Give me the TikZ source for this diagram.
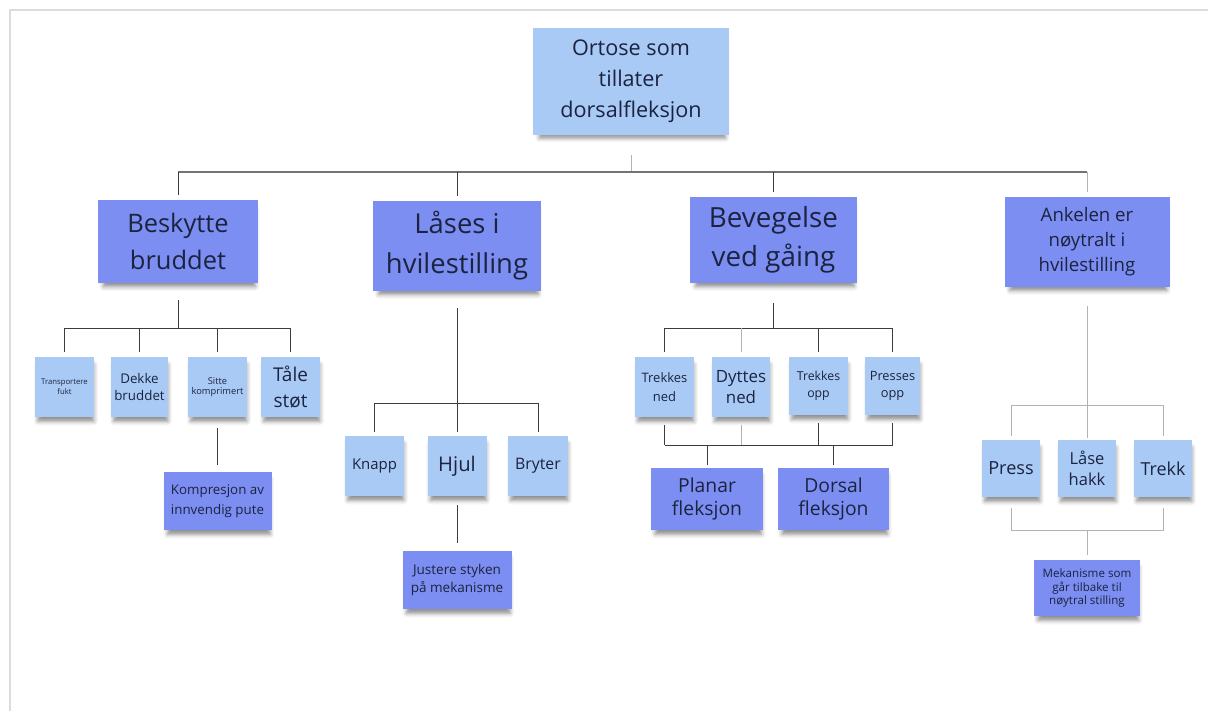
\documentclass[tikz,border=0pt]{standalone}
\usepackage{fontspec}
\setmainfont{Open Sans}
\usetikzlibrary{calc,shadows.blur}
\definecolor{lysblaa}{HTML}{A8CAF4}
\definecolor{lilla}{HTML}{7C8EF1}
\definecolor{tekst}{HTML}{1B2340}
\definecolor{strekfarge}{HTML}{3C3C3C}
\definecolor{rammefarge}{HTML}{DCDCDC}
\tikzset{
  lapp/.style={fill=lysblaa, text=tekst, align=center, inner sep=0pt,
    blur shadow={shadow xshift=0.8pt, shadow yshift=-3.5pt, shadow scale=0.95,
      shadow blur radius=2.5pt, shadow opacity=45}},
  lapp2/.style={lapp, fill=lilla},
  wh/.style 2 args={minimum width=#1*0.02cm, minimum height=#2*0.02cm},
  fs/.style 2 args={font=\fontsize{#1}{#2}\selectfont},
  strek/.style={draw=strekfarge, line width=0.55pt},
  lys/.style={draw=black!30, line width=0.55pt},
  hovedstrek/.style={draw=black!55, line width=1.3pt},
}
\begin{document}
\begin{tikzpicture}[x=0.02cm, y=-0.02cm]
    \useasboundingbox (0,0) rectangle (1208,711);
    \draw[rammefarge, line width=1.2pt] (10,711) -- (10,10) -- (1208,10);
    % rot
    \node[lapp, wh={196}{107}, fs={12.3}{17.6}] (rot) at (631,81.5) {Ortose som\\tillater\\dorsalfleksjon};
    % nivaa 1
    \node[lapp2, wh={160}{83}, fs={14.5}{21}] (beskytte) at (178,241.5) {Beskytte\\bruddet};
    \node[lapp2, wh={168}{90}, fs={15.6}{22.7}] (laases) at (457,246) {Låses i\\hvilestilling};
    \node[lapp2, wh={167}{86}, fs={15.8}{22}] (bevegelse) at (773.5,240) {Bevegelse\\ved gåing};
    \node[lapp2, wh={165}{90}, fs={10.6}{14.3}] (ankel) at (1087,242) {Ankelen er\\nøytralt i\\hvilestilling};
    % beskytte bruddet
    \node[lapp, wh={59}{60}, fs={4.4}{5.4}] (transport) at (64.5,387) {Transportere\\fukt};
    \node[lapp, wh={57}{60}, fs={7.6}{10}] (dekke) at (139.5,387) {Dekke\\bruddet};
    \node[lapp, wh={59}{60}, fs={5.3}{6}] (sitte) at (217.5,387) {Sitte\\komprimert};
    \node[lapp, wh={59}{60}, fs={10.8}{14.7}] (taale) at (290.5,387) {Tåle\\støt};
    \node[lapp2, wh={108}{58}, fs={7.6}{11.2}] (kompresjon) at (217.5,501) {Kompresjon av\\innvendig pute};
    % laases i hvilestilling
    \node[lapp, wh={59}{60}, fs={8.5}{11}] (knapp) at (374.5,466) {Knapp};
    \node[lapp, wh={59}{60}, fs={11.5}{14}] (hjul) at (457,466) {Hjul};
    \node[lapp, wh={60}{60}, fs={9}{11}] (bryter) at (538,466) {Bryter};
    \node[lapp2, wh={109}{58}, fs={7.7}{10.6}] (justere) at (457,580) {Justere styken\\på mekanisme};
    % bevegelse ved gaaing
    \node[lapp, wh={59}{60}, fs={7.4}{10.8}] (trekkned) at (664.5,387) {Trekkes\\ned};
    \node[lapp, wh={58}{60}, fs={9.6}{12.3}] (dyttesned) at (741,387) {Dyttes\\ned};
    \node[lapp, wh={59}{58}, fs={7}{9.8}] (trekkopp) at (818.5,386) {Trekkes\\opp};
    \node[lapp, wh={55}{58}, fs={7.3}{10}] (pressopp) at (892.5,386) {Presses\\opp};
    \node[lapp2, wh={112}{62}, fs={11}{13.6}] (planar) at (707,499) {Planar\\fleksjon};
    \node[lapp2, wh={111}{62}, fs={11}{13.6}] (dorsal) at (833.5,499) {Dorsal\\fleksjon};
    % ankelen
    \node[lapp, wh={58}{57}, fs={10.3}{12}] (press) at (1011,468.5) {Press};
    \node[lapp, wh={58}{57}, fs={9.4}{11.8}] (laasehakk) at (1087,468.5) {Låse\\hakk};
    \node[lapp, wh={58}{57}, fs={10.2}{12}] (trekk) at (1163,468.5) {Trekk};
    \node[lapp2, wh={106}{56}, fs={6.6}{7.9}] (mekanisme) at (1087,588) {Mekanisme som\\går tilbake til\\nøytral stilling};
    % streker fra rot
    \coordinate (bus0) at (631,172);
    \draw[lys] ($(rot.south)+(0,20)$) -- (bus0);
    \draw[hovedstrek] (beskytte.north |- bus0) -- (ankel.north |- bus0);
    \foreach \n in {beskytte,laases,bevegelse} {
      \draw[strek] (\n.north |- bus0) -- ($(\n.north)+(0,-5)$);
    }
    \draw[lys] (ankel.north |- bus0) -- ($(ankel.north)+(0,-5)$);
    % beskytte bruddet
    \coordinate (bus1) at (178,328);
    \draw[strek] ($(beskytte.south)+(0,17)$) -- (bus1);
    \draw[strek] (transport.north |- bus1) -- (taale.north |- bus1);
    \foreach \n in {transport,dekke,sitte,taale} {
      \draw[strek] (\n.north |- bus1) -- ($(\n.north)+(0,-5)$);
    }
    \draw[strek] ($(sitte.south)+(0,11)$) -- ($(kompresjon.north)+(0,-7)$);
    % laases i hvilestilling
    \coordinate (bus2) at (457,403);
    \draw[strek] ($(laases.south)+(0,17)$) -- ($(hjul.north)+(0,-4)$);
    \draw[strek] ($(knapp.north)+(0,-4)$) -- (knapp.north |- bus2) -- (bryter.north |- bus2) -- ($(bryter.north)+(0,-4)$);
    \draw[strek] ($(hjul.south)+(0,9)$) -- ($(justere.north)+(0,-8)$);
    % bevegelse ved gaaing
    \coordinate (bus3) at (773.5,328);
    \draw[strek] ($(bevegelse.south)+(0,20)$) -- (bus3);
    \draw[strek] (trekkned.north |- bus3) -- (pressopp.north |- bus3);
    \foreach \n in {trekkned,trekkopp,pressopp} {
      \draw[strek] (\n.north |- bus3) -- ($(\n.north)+(0,-5)$);
    }
    \draw[lys] (dyttesned.north |- bus3) -- ($(dyttesned.north)+(0,-5)$);
    \coordinate (bus4) at (779,445);
    \foreach \n in {trekkned,trekkopp,pressopp} {
      \draw[strek] ($(\n.south)+(0,8)$) -- (\n.south |- bus4);
    }
    \draw[lys] ($(dyttesned.south)+(0,8)$) -- (dyttesned.south |- bus4);
    \draw[strek] (trekkned.south |- bus4) -- (pressopp.south |- bus4);
    \foreach \n in {planar,dorsal} {
      \draw[strek] (\n.north |- bus4) -- ($(\n.north)+(0,-3)$);
    }
    % ankelen
    \coordinate (bus5) at (1087,405);
    \draw[lys] ($(ankel.south)+(0,19)$) -- ($(laasehakk.north)+(0,-2)$);
    \draw[lys] ($(press.north)+(0,-4)$) -- (press.north |- bus5) -- (trekk.north |- bus5) -- ($(trekk.north)+(0,-4)$);
    \coordinate (bus6) at (1087,530);
    \draw[lys] ($(press.south)+(0,11)$) -- (press.south |- bus6) -- (trekk.south |- bus6) -- ($(trekk.south)+(0,11)$);
    \draw[lys] (bus6) -- ($(mekanisme.north)+(0,-5)$);
\end{tikzpicture}
\end{document}
